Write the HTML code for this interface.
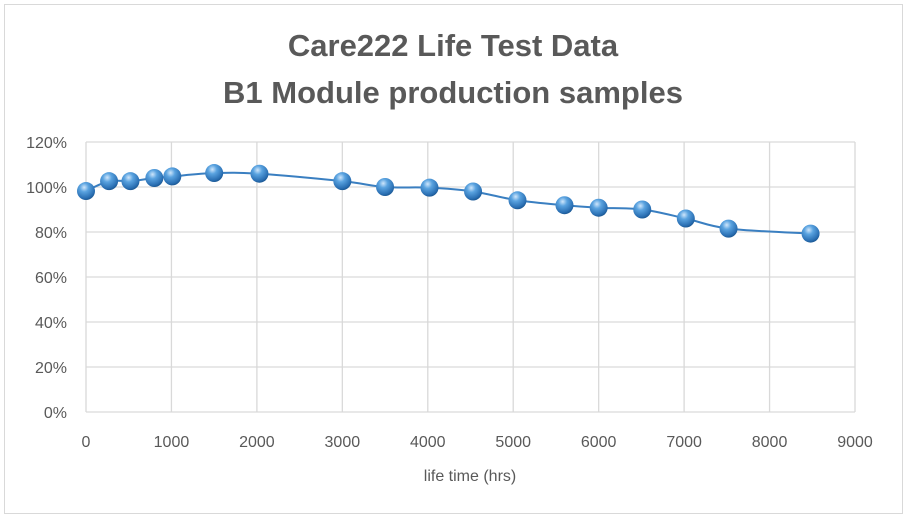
<!DOCTYPE html>
<html><head><meta charset="utf-8"><style>
body{margin:0;background:#fff;width:907px;height:518px;overflow:hidden}
svg{display:block;font-family:"Liberation Sans",sans-serif}
</style></head><body>
<svg width="907" height="518">
<defs><radialGradient id="ball" cx="0.4" cy="0.3" r="0.7">
<stop offset="0" stop-color="#cfe6fb"/><stop offset="0.35" stop-color="#5aa3e0"/><stop offset="0.85" stop-color="#2a6fb3"/><stop offset="1" stop-color="#1d5a96"/></radialGradient></defs>
<rect x="4.5" y="4.5" width="898" height="509" fill="#fff" stroke="#d9d9d9"/>
<text x="453" y="56" text-anchor="middle" font-size="31" font-weight="bold" fill="#595959">Care222 Life Test Data</text>
<text x="453" y="103" text-anchor="middle" font-size="31" font-weight="bold" fill="#595959">B1 Module production samples</text>
<g id="grid"></g><g id="series"></g><g id="labels"></g>
<text x="470" y="481" text-anchor="middle" font-size="16" fill="#595959">life time (hrs)</text>
</svg>
<script>
const hours=[0,270,520,800,1010,1500,2030,3000,3500,4020,4530,5050,5600,6000,6510,7020,7520,8480];
const percent=[98.2,102.6,102.6,104,104.7,106.2,105.9,102.6,100,99.7,98,94.1,91.9,90.8,90,86,81.5,79.3];
const xTicks=[0,1000,2000,3000,4000,5000,6000,7000,8000,9000];
const yTicks=[0,20,40,60,80,100,120];
const X0=86,X1=855,Y0=412,Y1=142;
const xs=v=>X0+(v/9000)*(X1-X0);
const ys=v=>Y0-(v/120)*(Y0-Y1);
const NS="http://www.w3.org/2000/svg";
function mk(t,a,p){const e=document.createElementNS(NS,t);for(const k in a)e.setAttribute(k,a[k]);p.appendChild(e);return e;}
const grid=document.getElementById('grid'),lab=document.getElementById('labels'),ser=document.getElementById('series');
yTicks.forEach(t=>{const l=mk('line',{x1:X0,x2:X1,y1:ys(t),y2:ys(t),stroke:'#d9d9d9','stroke-width':1.3},grid);


const tx=mk('text',{x:67,y:ys(t)+6,'text-anchor':'end','font-size':16,fill:'#595959'},lab);tx.textContent=t+'%';

});
xTicks.forEach(t=>{const l=mk('line',{x1:xs(t),x2:xs(t),y1:Y1,y2:Y0,stroke:'#d9d9d9','stroke-width':1.3},grid);


const tx=mk('text',{x:xs(t),y:447,'text-anchor':'middle','font-size':16,fill:'#595959'},lab);tx.textContent=t;

});
const P=hours.map((h,i)=>[xs(h),ys(percent[i])]);
let d='M'+P[0][0]+','+P[0][1];
for(let i=0;i<P.length-1;i++){const p0=P[i-1]||P[i],p1=P[i],p2=P[i+1],p3=P[i+2]||p2,k=6;
d+=` C${p1[0]+(p2[0]-p0[0])/k},${p1[1]+(p2[1]-p0[1])/k} ${p2[0]-(p3[0]-p1[0])/k},${p2[1]-(p3[1]-p1[1])/k} ${p2[0]},${p2[1]}`;}
const line=mk('path',{d:d,fill:'none',stroke:'#3a7fc1','stroke-width':2},ser);


P.forEach(p=>{const c=mk('circle',{cx:p[0],cy:p[1],r:9,fill:'url(#ball)'},ser);

});
</script>
</body></html>
